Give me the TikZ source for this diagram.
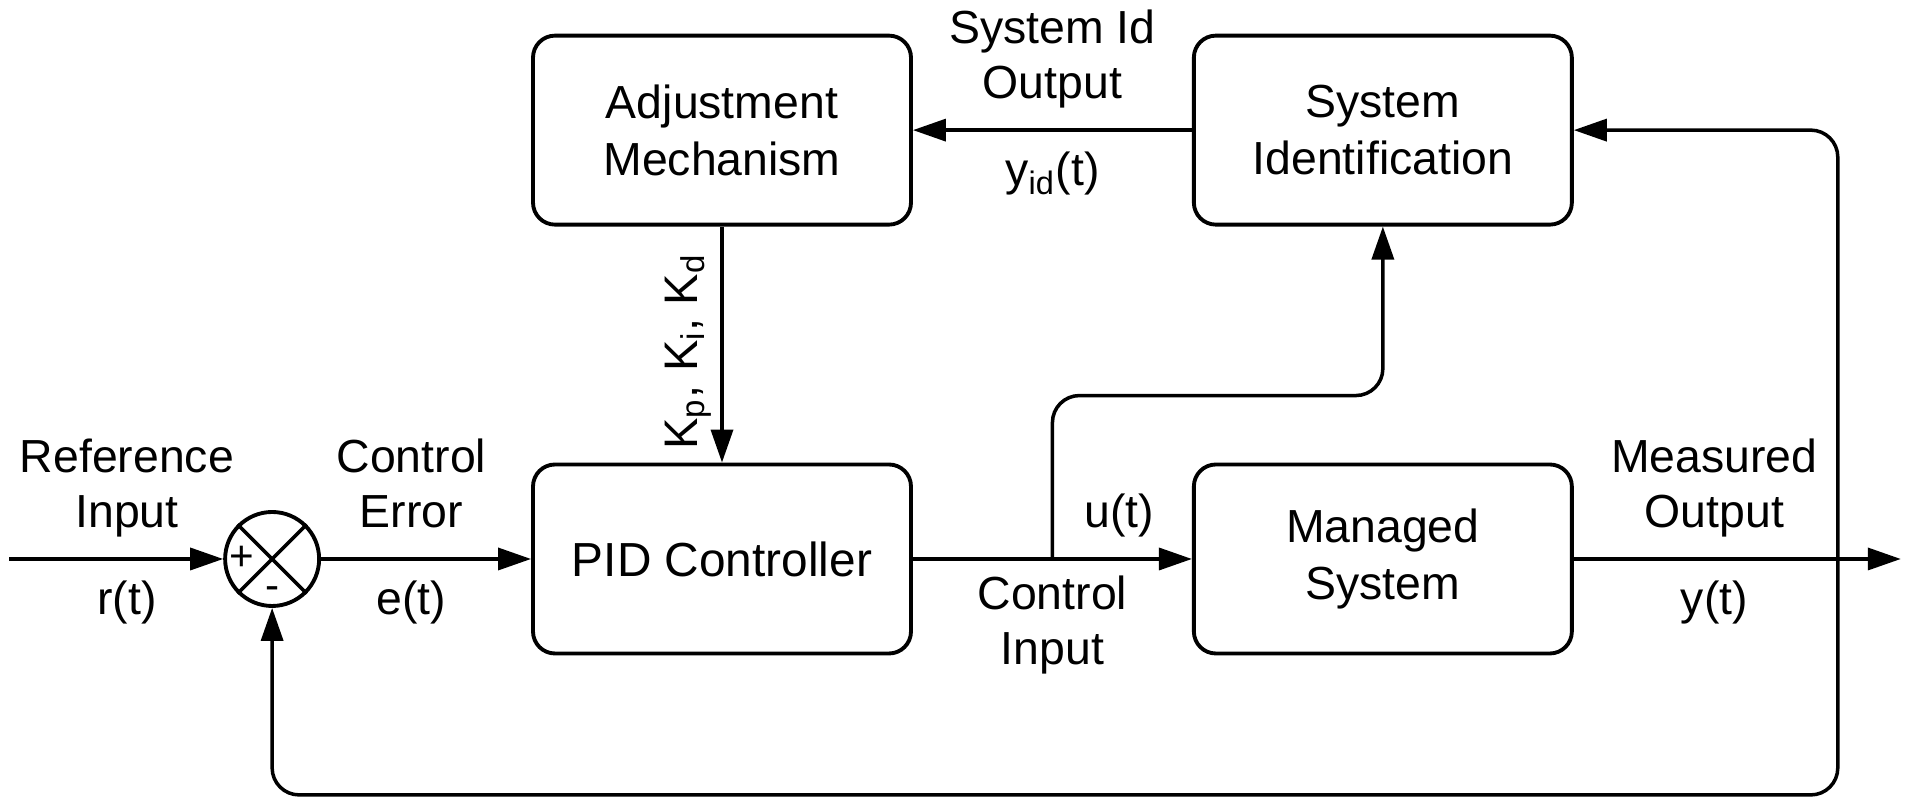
\documentclass[tikz,border=0pt]{standalone}
\usepackage{fontspec}
\setmainfont{Liberation Sans}
\usetikzlibrary{arrows.meta, positioning, calc}

\begin{document}
\begin{tikzpicture}[
    node distance=2.36cm and 2.79cm,
    block/.style={rectangle, draw, line width=1.1pt, rounded corners=0.22cm, align=center, minimum width=3.78cm, minimum height=1.89cm, font=\fontsize{13.2}{16.2}\selectfont},
    sumnode/.style={circle, draw, line width=1.1pt, minimum size=0.94cm, inner sep=0pt},
    lbl/.style={align=center, inner sep=0pt, font=\fontsize{13.2}{15.6}\selectfont, execute at begin node=\strut, execute at end node=\strut},
    gainlbl/.style={rotate=90, anchor=south, inner sep=2.5pt, font=\fontsize{13.4}{16}\selectfont},
    sign/.style={inner sep=0pt, font=\fontsize{12}{14}\selectfont},
    arrow/.style={line width=1pt, -{Triangle[length=0.33cm, width=0.22cm]}},
    line/.style={line width=1pt}
]
    \useasboundingbox (0,0) rectangle (19.07,7.97);

    % Nodes
    \node[block, font=\fontsize{13.6}{16.2}\selectfont] (pid) at (7.22,2.38) {PID Controller};
    \node[block, right=of pid] (mansys) {Managed\\System};
    \node[block, above=of pid] (adjust) {Adjustment\\Mechanism};
    \node[block, above=of mansys] (sysid) {System\\Identification};
    \node[sumnode, left=2.10cm of pid] (sum) {};
    \draw[line] (sum.north west) -- (sum.south east);
    \draw[line] (sum.north east) -- (sum.south west);
    \node[sign] (plus) at ($(sum.center)+(-0.30,0.01)$) {+};
    \node[sign] (minus) at ($(sum.center)+(0,-0.34)$) {-};

    % Loose ends and branch points
    \coordinate[left=2.14cm of sum] (refin);
    \coordinate[right=3.27cm of mansys] (measout);
    \coordinate[right=2.64cm of mansys] (fb);
    \coordinate (branch) at ($(pid.east)!0.5!(mansys.west)$);

    % Connections
    \draw[arrow] (refin) -- node[lbl, above=0.135cm, pos=0.55] (reflbl) {Reference\\Input} node[lbl, below=0.15cm, pos=0.55] (rlbl) {r(t)} (sum.west);
    \draw[arrow] (sum.east) -- node[lbl, above=0.135cm, pos=0.43] (errlbl) {Control\\Error} node[lbl, below=0.15cm, pos=0.43] (elbl) {e(t)} (pid.west);
    \draw[arrow] (pid.east) -- node[lbl, below=0.15cm] (cinlbl) {Control\\Input} node[lbl, above=0.135cm, pos=0.74] (ulbl) {u(t)} (mansys.west);
    \draw[arrow] (mansys.east) -- node[lbl, above=0.135cm, pos=0.43] (moutlbl) {Measured\\Output} node[lbl, below=0.15cm, pos=0.43] (ylbl) {y(t)} (measout);
    \draw[arrow] (sysid.west) -- node[lbl, above=0.135cm] (idoutlbl) {System Id\\Output} node[lbl, below=0.15cm] (yidlbl) {y\textsubscript{id}(t)} (adjust.east);
    \draw[arrow] (adjust.south) -- node[gainlbl, pos=0.53] (gains) {K\textsubscript{p}, K\textsubscript{i}, K\textsubscript{d}} (pid.north);

    % Feedback paths
    \draw[arrow, rounded corners=0.27cm] (branch) |- ($(sysid.south)+(0,-1.69)$) -- (sysid.south);
    \draw[arrow, rounded corners=0.27cm] (fb) |- (sysid.east);
    \draw[arrow, rounded corners=0.27cm] (fb) |- ($(sum.south)+(0,-1.87)$) -- (sum.south);
\end{tikzpicture}
\end{document}
